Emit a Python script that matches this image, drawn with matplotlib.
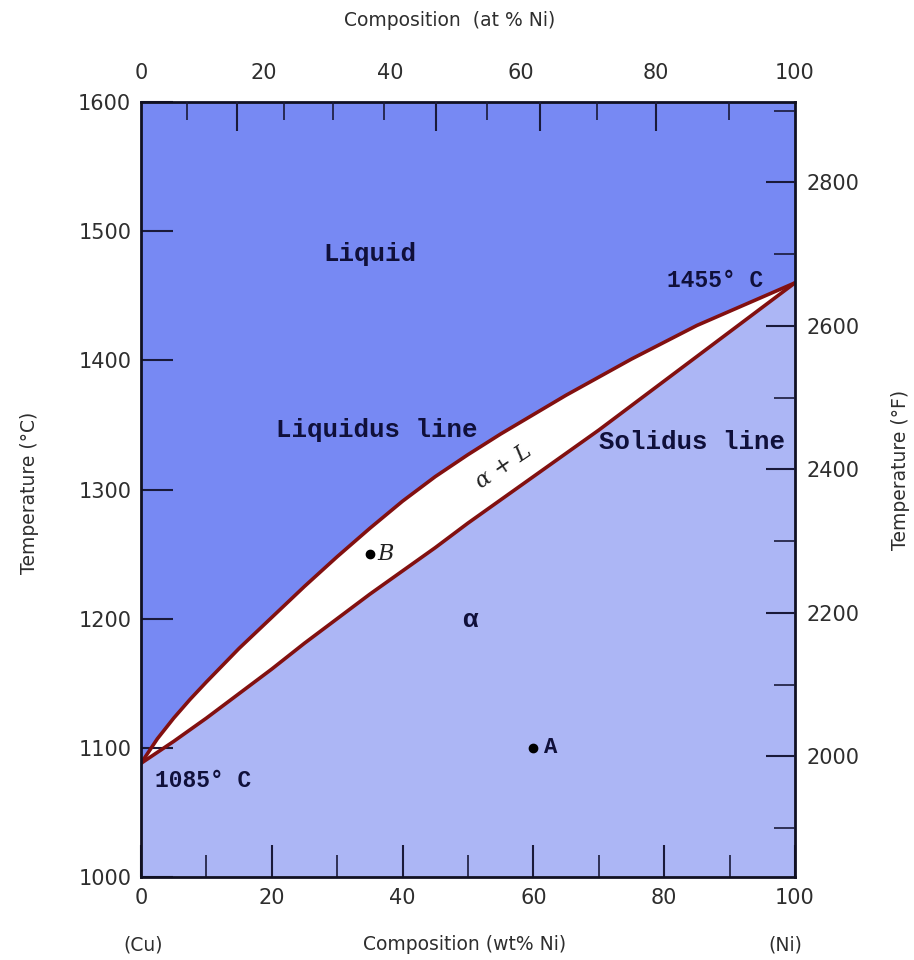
import matplotlib
matplotlib.use("Agg")
import matplotlib.pyplot as plt
import numpy as np

# composition (wt% Ni) and temperatures (°C)
wt_ni = [0, 2.5, 5, 7.5, 10, 15, 20, 25, 30, 35, 40, 45, 50, 55, 60, 65, 70, 75, 80, 85, 90, 95, 100]
liquidus = [1088, 1107, 1123, 1137.5, 1151, 1177, 1201, 1225, 1248, 1270, 1291, 1310, 1327, 1343,
            1358, 1373, 1387, 1401, 1414, 1427, 1438, 1449, 1460]
solidus = [1088, 1096.5, 1105, 1114, 1123, 1142, 1161, 1181, 1200, 1219, 1237, 1255, 1274, 1292,
           1310, 1328, 1346, 1365, 1384, 1403, 1422, 1441, 1460]

point_b = (35, 1250)
point_a = (60, 1100)

temp_ticks_c = [1000, 1100, 1200, 1300, 1400, 1500, 1600]
temp_ticks_f = [2000, 2200, 2400, 2600, 2800]
temp_minor_f = [1900, 2100, 2300, 2500, 2700, 2900]
wt_ticks = [0, 20, 40, 60, 80, 100]
wt_minor = [10, 30, 50, 70, 90]
at_ticks = [0, 20, 40, 60, 80, 100]
# tick marks along the top edge (in wt% coordinates)
top_long = [14.7, 45.1, 61.0, 78.7]
top_short = [7.0, 21.9, 29.4, 37.2, 52.9, 69.7, 89.9]

M_NI, M_CU = 58.693, 63.546

liquid_col = "#7789f3"
solid_col = "#acb6f5"
line_col = "#821010"
txt_col = "#2e2e2e"
lab_col = "#10103a"
tick_col = "#1a1a3a"


def at_to_wt(a):
    a = np.asarray(a, dtype=float)
    return 100 * a * M_NI / (a * M_NI + (100 - a) * M_CU)


def wt_to_at(w):
    w = np.asarray(w, dtype=float)
    return 100 * (w / M_NI) / (w / M_NI + (100 - w) / M_CU)


def c2f(c):
    return c * 9 / 5 + 32


W, H = 914, 960
fig = plt.figure(figsize=(W / 100, H / 100), dpi=100)
ax = fig.add_axes([141 / W, 83 / H, 654 / W, 775 / H])
ax.set_xlim(0, 100)
ax.set_ylim(1000, 1600)

ax.fill_between(wt_ni, liquidus, 1600, color=liquid_col, lw=0)
ax.fill_between(wt_ni, solidus, liquidus, color="white", lw=0)
ax.fill_between(wt_ni, 1000, solidus, color=solid_col, lw=0)
ax.plot(wt_ni, liquidus, color=line_col, lw=2.6, solid_joinstyle="round")
ax.plot(wt_ni, solidus, color=line_col, lw=2.6, solid_joinstyle="round")

ax.plot(*point_b, "o", color="black", ms=6)
ax.plot(*point_a, "o", color="black", ms=6)

for s in ax.spines.values():
    s.set_linewidth(2)
    s.set_color("#111122")

# bottom / left
ax.set_xticks(wt_ticks)
ax.set_xticks(wt_minor, minor=True)
ax.set_yticks(temp_ticks_c)
ax.tick_params(axis="both", which="major", direction="in", length=23, width=1.5,
               color=tick_col, labelsize=15, labelcolor=txt_col)
ax.tick_params(axis="x", which="major", pad=8)
ax.tick_params(axis="y", which="major", pad=7)
ax.tick_params(axis="x", which="minor", direction="in", length=16, width=1.2, color=tick_col)
ax.tick_params(axis="y", which="minor", left=False)

# top tick marks
axt = ax.twiny()
axt.set_xlim(0, 100)
axt.set_xticks(top_long)
axt.set_xticks(top_short, minor=True)
axt.tick_params(axis="x", which="major", direction="in", length=21, width=1.5,
                color=tick_col, labeltop=False)
axt.tick_params(axis="x", which="minor", direction="in", length=13, width=1.2, color=tick_col)
for s in axt.spines.values():
    s.set_visible(False)

# top labels (at% Ni)
sec_top = ax.secondary_xaxis("top", functions=(wt_to_at, at_to_wt))
sec_top.set_xticks(at_ticks)
sec_top.tick_params(length=0, labelsize=15, labelcolor=txt_col, pad=14)
sec_top.spines["top"].set_visible(False)

# right axis (°F)
axr = ax.twinx()
axr.set_ylim(c2f(1000), c2f(1600))
axr.set_yticks(temp_ticks_f)
axr.set_yticks(temp_minor_f, minor=True)
axr.tick_params(axis="y", which="major", direction="in", length=21, width=1.5, color=tick_col,
                labelsize=15, labelcolor=txt_col, pad=8)
axr.tick_params(axis="y", which="minor", direction="in", length=15, width=1.2, color=tick_col)
for s in axr.spines.values():
    s.set_visible(False)

# axis titles
fig.text(450 / W, 1 - 20 / H, "Composition  (at % Ni)", ha="center", va="center",
         fontsize=13.5, color=txt_col)
fig.text(465 / W, 1 - 945 / H, "Composition (wt% Ni)", ha="center", va="center",
         fontsize=13.5, color=txt_col)
fig.text(143 / W, 1 - 945 / H, "(Cu)", ha="center", va="center", fontsize=13.5, color=txt_col)
fig.text(785 / W, 1 - 945 / H, "(Ni)", ha="center", va="center", fontsize=13.5, color=txt_col)
fig.text(30 / W, 1 - 493 / H, "Temperature (°C)", ha="center", va="center", rotation=90,
         fontsize=13.5, color=txt_col)
fig.text(900 / W, 1 - 470 / H, "Temperature (°F)", ha="center", va="center", rotation=90,
         fontsize=13.5, color=txt_col)

# region labels
mono = dict(family="Liberation Mono", fontweight="bold", color=lab_col, fontsize=18.5)
ax.text(35, 1482, "Liquid", ha="center", va="center", **mono)
ax.text(36, 1346, "Liquidus line", ha="center", va="center", **mono)
ax.text(98.5, 1337, "Solidus line", ha="right", va="center", **mono)
ax.text(80.5, 1462, "1455° C", ha="left", va="center",
        **{**mono, "fontsize": 16.5})
ax.text(2.1, 1075, "1085° C", ha="left", va="center",
        **{**mono, "fontsize": 16.5})
ax.text(50.3, 1199, "α", ha="center", va="center", **mono)
ax.text(point_a[0] + 1.6, point_a[1], "A", ha="left", va="center",
        family="Liberation Mono", fontweight="bold", color=lab_col, fontsize=16)
ax.text(point_b[0] + 1.2, point_b[1], "B", ha="left", va="center",
        family="DejaVu Serif", style="italic", color="#222222", fontsize=16)
ax.text(55.5, 1318, "α + L", ha="center", va="center", rotation=34,
        family="DejaVu Serif", style="italic", color="#222222", fontsize=16)

fig.savefig("out.png", dpi=100)
